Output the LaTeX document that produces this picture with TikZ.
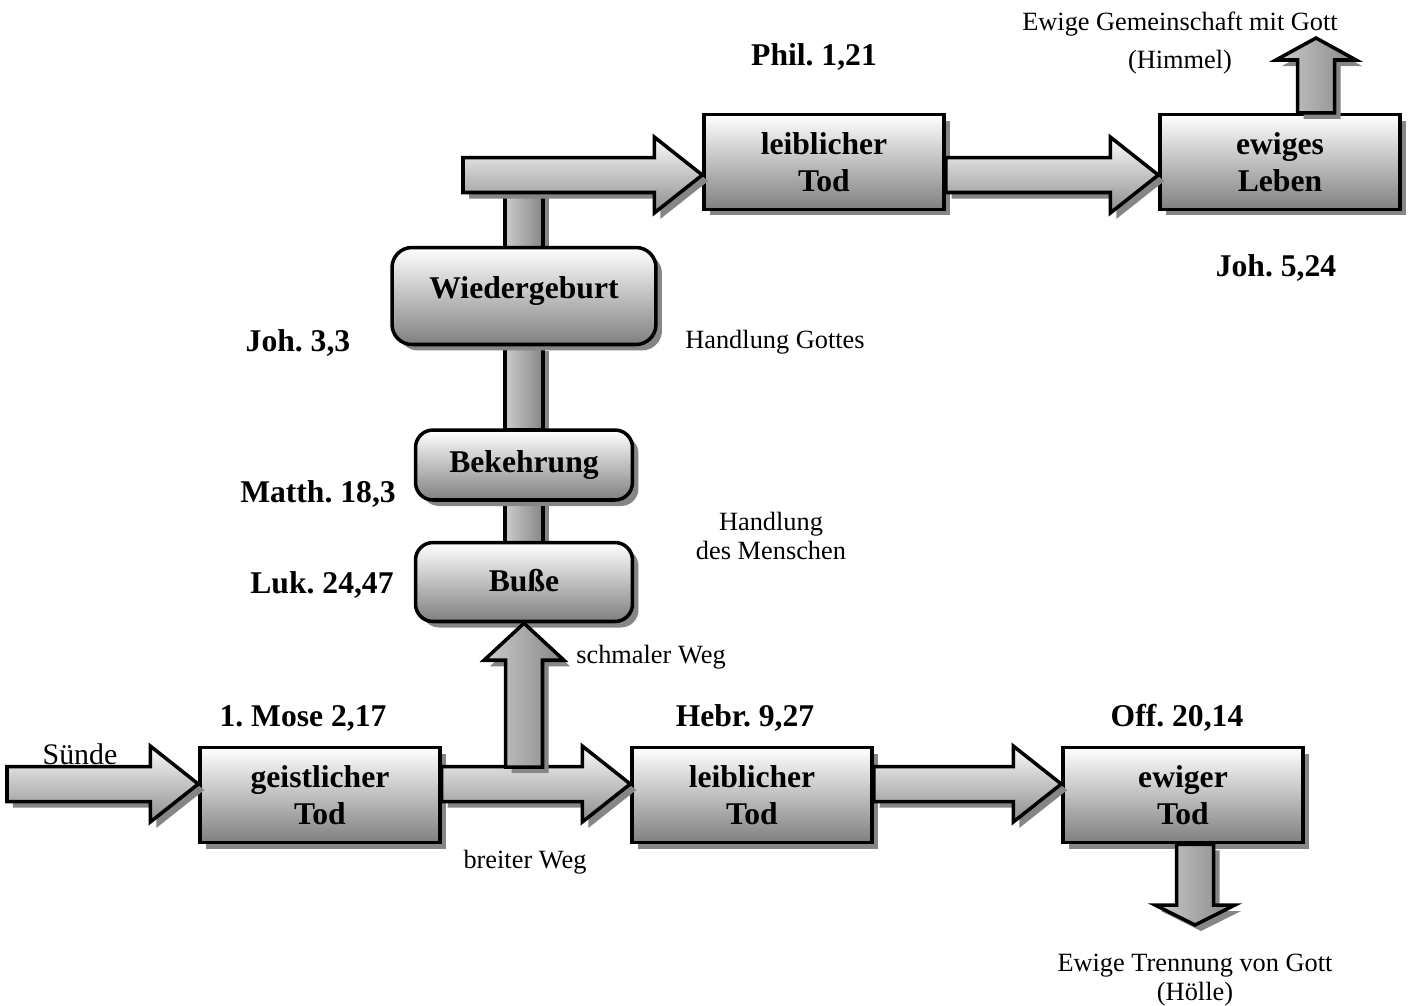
\documentclass[tikz,border=0pt]{standalone}
\usepackage{fontspec}
\setmainfont{Liberation Serif}
\usetikzlibrary{calc,shadows}
\frenchspacing

\newcommand\boxfont{\fontsize{18}{21}\selectfont\bfseries}
\newcommand\reffont{\fontsize{18}{21}\selectfont\bfseries}
\newcommand\notefont{\fontsize{15}{17}\selectfont}

% horizontal block arrow: from point #1 to tip #2
\newcommand\hblockarrow[2]{%
  \draw[hblock] let \p1=(#1), \p2=(#2) in
    (\x1,\y1+0.35cm) -- (\x2-0.96cm,\y1+0.35cm) -- (\x2-0.96cm,\y1+0.76cm)
    -- (\x2,\y1) -- (\x2-0.96cm,\y1-0.76cm) -- (\x2-0.96cm,\y1-0.35cm)
    -- (\x1,\y1-0.35cm) -- cycle;}
% vertical block arrow: from #1 to tip #2, #3 = signed head length
\newcommand\vblockarrow[3]{%
  \draw[vblock] let \p1=(#1), \p2=(#2) in
    (\x1-0.37cm,\y1) -- (\x1-0.37cm,\y2+#3) -- (\x1-0.8cm,\y2+#3)
    -- (\x1,\y2) -- (\x1+0.8cm,\y2+#3) -- (\x1+0.37cm,\y2+#3)
    -- (\x1+0.37cm,\y1) -- cycle;}
% plain vertical bar between two boxes
\newcommand\vblockbar[2]{%
  \draw[vblock] let \p1=(#1), \p2=(#2) in
    (\x1-0.38cm,\y1) rectangle (\x1+0.38cm,\y2);}

\begin{document}
\begin{tikzpicture}[
    x=0.02cm, y=-0.02cm, % pixel grid of the original
    shade/.style={drop shadow={shadow xshift=0.12cm, shadow yshift=-0.12cm, fill=gray!95, opacity=1}},
    box/.style={draw, line width=2pt, minimum width=4.8cm, minimum height=1.9cm,
        top color=white, bottom color=gray, shade, align=center, font=\boxfont},
    roundbox/.style={box, rounded corners=0.35cm, minimum width=4.34cm},
    hblock/.style={line width=2pt, top color=gray!3, bottom color=gray!90, shade},
    vblock/.style={line width=2pt, left color=gray!40, middle color=gray!4, right color=gray!95, shade},
    ref/.style={font=\reffont},
    note/.style={font=\notefont, align=center}
  ]
  \useasboundingbox (0,0) rectangle (1413,1005);

  % bars behind the boxes
  \coordinate (busse top) at (524,543);
  \coordinate (shaft top) at (524,190);
  \vblockbar{busse top}{524,500}
  \vblockbar{524,430}{524,345}
  \vblockbar{524,248}{shaft top}

  % boxes
  \node[box] (geisttod) at (320,795) {geistlicher\\Tod};
  \node[box] (leibtod) at (752,795) {leiblicher\\Tod};
  \node[box] (ewigtod) at (1183,795) {ewiger\\Tod};
  \node[box] (leibtodzwei) at (824,162) {leiblicher\\Tod};
  \node[box] (ewigleben) at (1280,162) {ewiges\\Leben};
  \node[roundbox, minimum width=5.28cm, minimum height=1.94cm, rounded corners=0.4cm]
      (wiedergeburt) at (524,296) {\raisebox{0.32cm}{Wiedergeburt}};
  \node[roundbox, minimum height=1.4cm] (bekehrung) at (524,465) {Bekehrung};
  \node[roundbox, minimum height=1.58cm] (busse) at (524,582) {\raisebox{0.08cm}{Buße}};

  % arrows
  \coordinate (suende) at (7,784);
  \coordinate (wegstart) at (463,175);
  \coordinate (fork) at (524,767);
  \coordinate (himmel) at (1316,38);
  \coordinate (hoelle) at (1195,925);
  \hblockarrow{suende}{geisttod.west |- suende}
  \hblockarrow{$(geisttod.east)+(0,-11)$}{$(leibtod.west)+(0,-11)$}
  \hblockarrow{$(leibtod.east)+(0,-11)$}{$(ewigtod.west)+(0,-11)$}
  \hblockarrow{wegstart}{leibtodzwei.west |- wegstart}
  \hblockarrow{$(leibtodzwei.east)+(0,13)$}{$(ewigleben.west)+(0,13)$}
  \vblockarrow{fork}{busse.south}{-0.74cm}
  \vblockarrow{$(ewigleben.north)+(36,0)$}{himmel}{-0.44cm}
  \vblockarrow{$(ewigtod.south)+(12,0)$}{hoelle}{0.4cm}

  % labels
  \node[font=\fontsize{17}{20}\selectfont] (suendetext) at (80,754) {Sünde};
  \node[ref] (refmose) at (303,718) {1. Mose 2,17};
  \node[ref] (refhebr) at (745,718) {Hebr. 9,27};
  \node[ref] (refoff) at (1177,718) {Off. 20,14};
  \node[ref] (refluk) at (322,585) {Luk. 24,47};
  \node[ref] (refmatth) at (318,494) {Matth. 18,3};
  \node[ref] (refjohdrei) at (298,343) {Joh. 3,3};
  \node[ref] (refphil) at (814,57) {Phil. 1,21};
  \node[ref] (refjohfuenf) at (1276,268) {Joh. 5,24};
  \node[note] (breit) at (525,862) {breiter Weg};
  \node[note] (schmal) at (651,657) {schmaler Weg};
  \node[note] (mensch) at (771,536) {Handlung\\des Menschen};
  \node[note] (gott) at (775,342) {Handlung Gottes};
  \node[note] (himmeltext) at (1180,43) {Ewige Gemeinschaft mit Gott\\[5pt](Himmel)};
  \node[note] (hoelletext) at (1195,980) {Ewige Trennung von Gott\\(Hölle)};
\end{tikzpicture}
\end{document}
